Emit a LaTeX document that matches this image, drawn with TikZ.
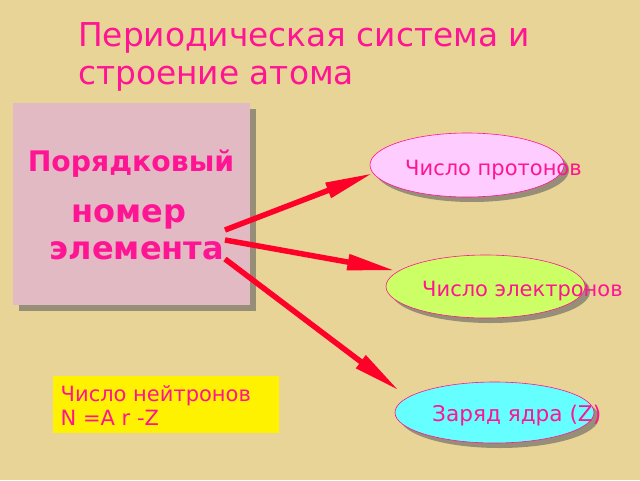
\documentclass[tikz,border=0pt]{standalone}
\usepackage{fontspec}
\setmainfont{DejaVu Sans}
\usetikzlibrary{arrows.meta,shapes.geometric,shadows}
\definecolor{bgtan}{RGB}{232,212,150}
\definecolor{boxpink}{RGB}{226,186,196}
\definecolor{txtpink}{RGB}{255,20,147}
\definecolor{arrred}{RGB}{255,0,40}
\definecolor{shgray}{RGB}{150,142,118}
\definecolor{ellpink}{RGB}{255,204,255}
\definecolor{ellgreen}{RGB}{204,255,102}
\definecolor{ellcyan}{RGB}{102,255,255}
\begin{document}
\begin{tikzpicture}[x=1pt,y=-1pt,
  titletext/.style={anchor=base west,inner sep=0pt,text=txtpink,font=\fontsize{32.8}{38}\selectfont},
  boldtext/.style={anchor=base,inner sep=0pt,text=txtpink,font=\bfseries\fontsize{32}{36}\selectfont},
  elltext/.style={anchor=base west,inner sep=0pt,text=txtpink,font=\fontsize{21}{25}\selectfont},
  bubble/.style={ellipse,draw=txtpink,line width=0.6pt,inner sep=0pt,
    drop shadow={shadow xshift=5pt,shadow yshift=-5pt,fill=shgray,opacity=1}},
  bigarrow/.style={draw=arrred,line width=5.5pt,-{Triangle[length=48pt,width=15pt]}}]
\useasboundingbox (0,0) rectangle (640,480);
\fill[bgtan] (0,0) rectangle (640,480);
% title
\node[titletext] (t1) at (78,46) {Периодическая система и};
\node[titletext] (t2) at (78,84) {строение атома};
% left box
\fill[shgray] (19,109) rectangle (256,311);
\node[fill=boxpink,minimum width=237pt,minimum height=202pt,anchor=north west,inner sep=0pt] (box) at (13,103) {};
\node[boldtext,font=\bfseries\fontsize{28.3}{32}\selectfont] (l1) at (131,171) {Порядковый};
\node[boldtext] (l2) at (129,222) {номер};
\node[boldtext] (l3) at (137,259) {элемента};
% ellipses
\node[bubble,fill=ellpink,minimum width=194pt,minimum height=64pt] (e1) at (467,165) {};
\node[bubble,fill=ellgreen,minimum width=199pt,minimum height=63pt] (e2) at (485.5,286.5) {};
\node[bubble,fill=ellcyan,minimum width=199pt,minimum height=61pt] (e3) at (494.5,412.5) {};
\node[elltext] (e1t) at (405,175) {Число протонов};
\node[elltext] (e2t) at (422,296) {Число электронов};
\node[elltext,font=\fontsize{21.6}{25}\selectfont] (e3t) at (432,421.5) {Заряд ядра (Z)};
% yellow box
\node[fill=yellow,minimum width=226pt,minimum height=57pt,anchor=north west,inner sep=0pt] (yb) at (53,376) {};
\node[elltext] (y1) at (60.5,401.5) {Число нейтронов};
\node[elltext] (y2) at (60.5,425) {N =A r -Z};
% arrows
\coordinate (s1) at (225,230);
\coordinate (s2) at (225,240);
\coordinate (s3) at (225,259);
\draw[bigarrow] (s1) -- (e1.185);
\draw[bigarrow,shorten >=3pt] (s2) -- (e2.170);
\draw[bigarrow,shorten >=11pt] (s3) -- (e3.170);
\end{tikzpicture}
\end{document}
